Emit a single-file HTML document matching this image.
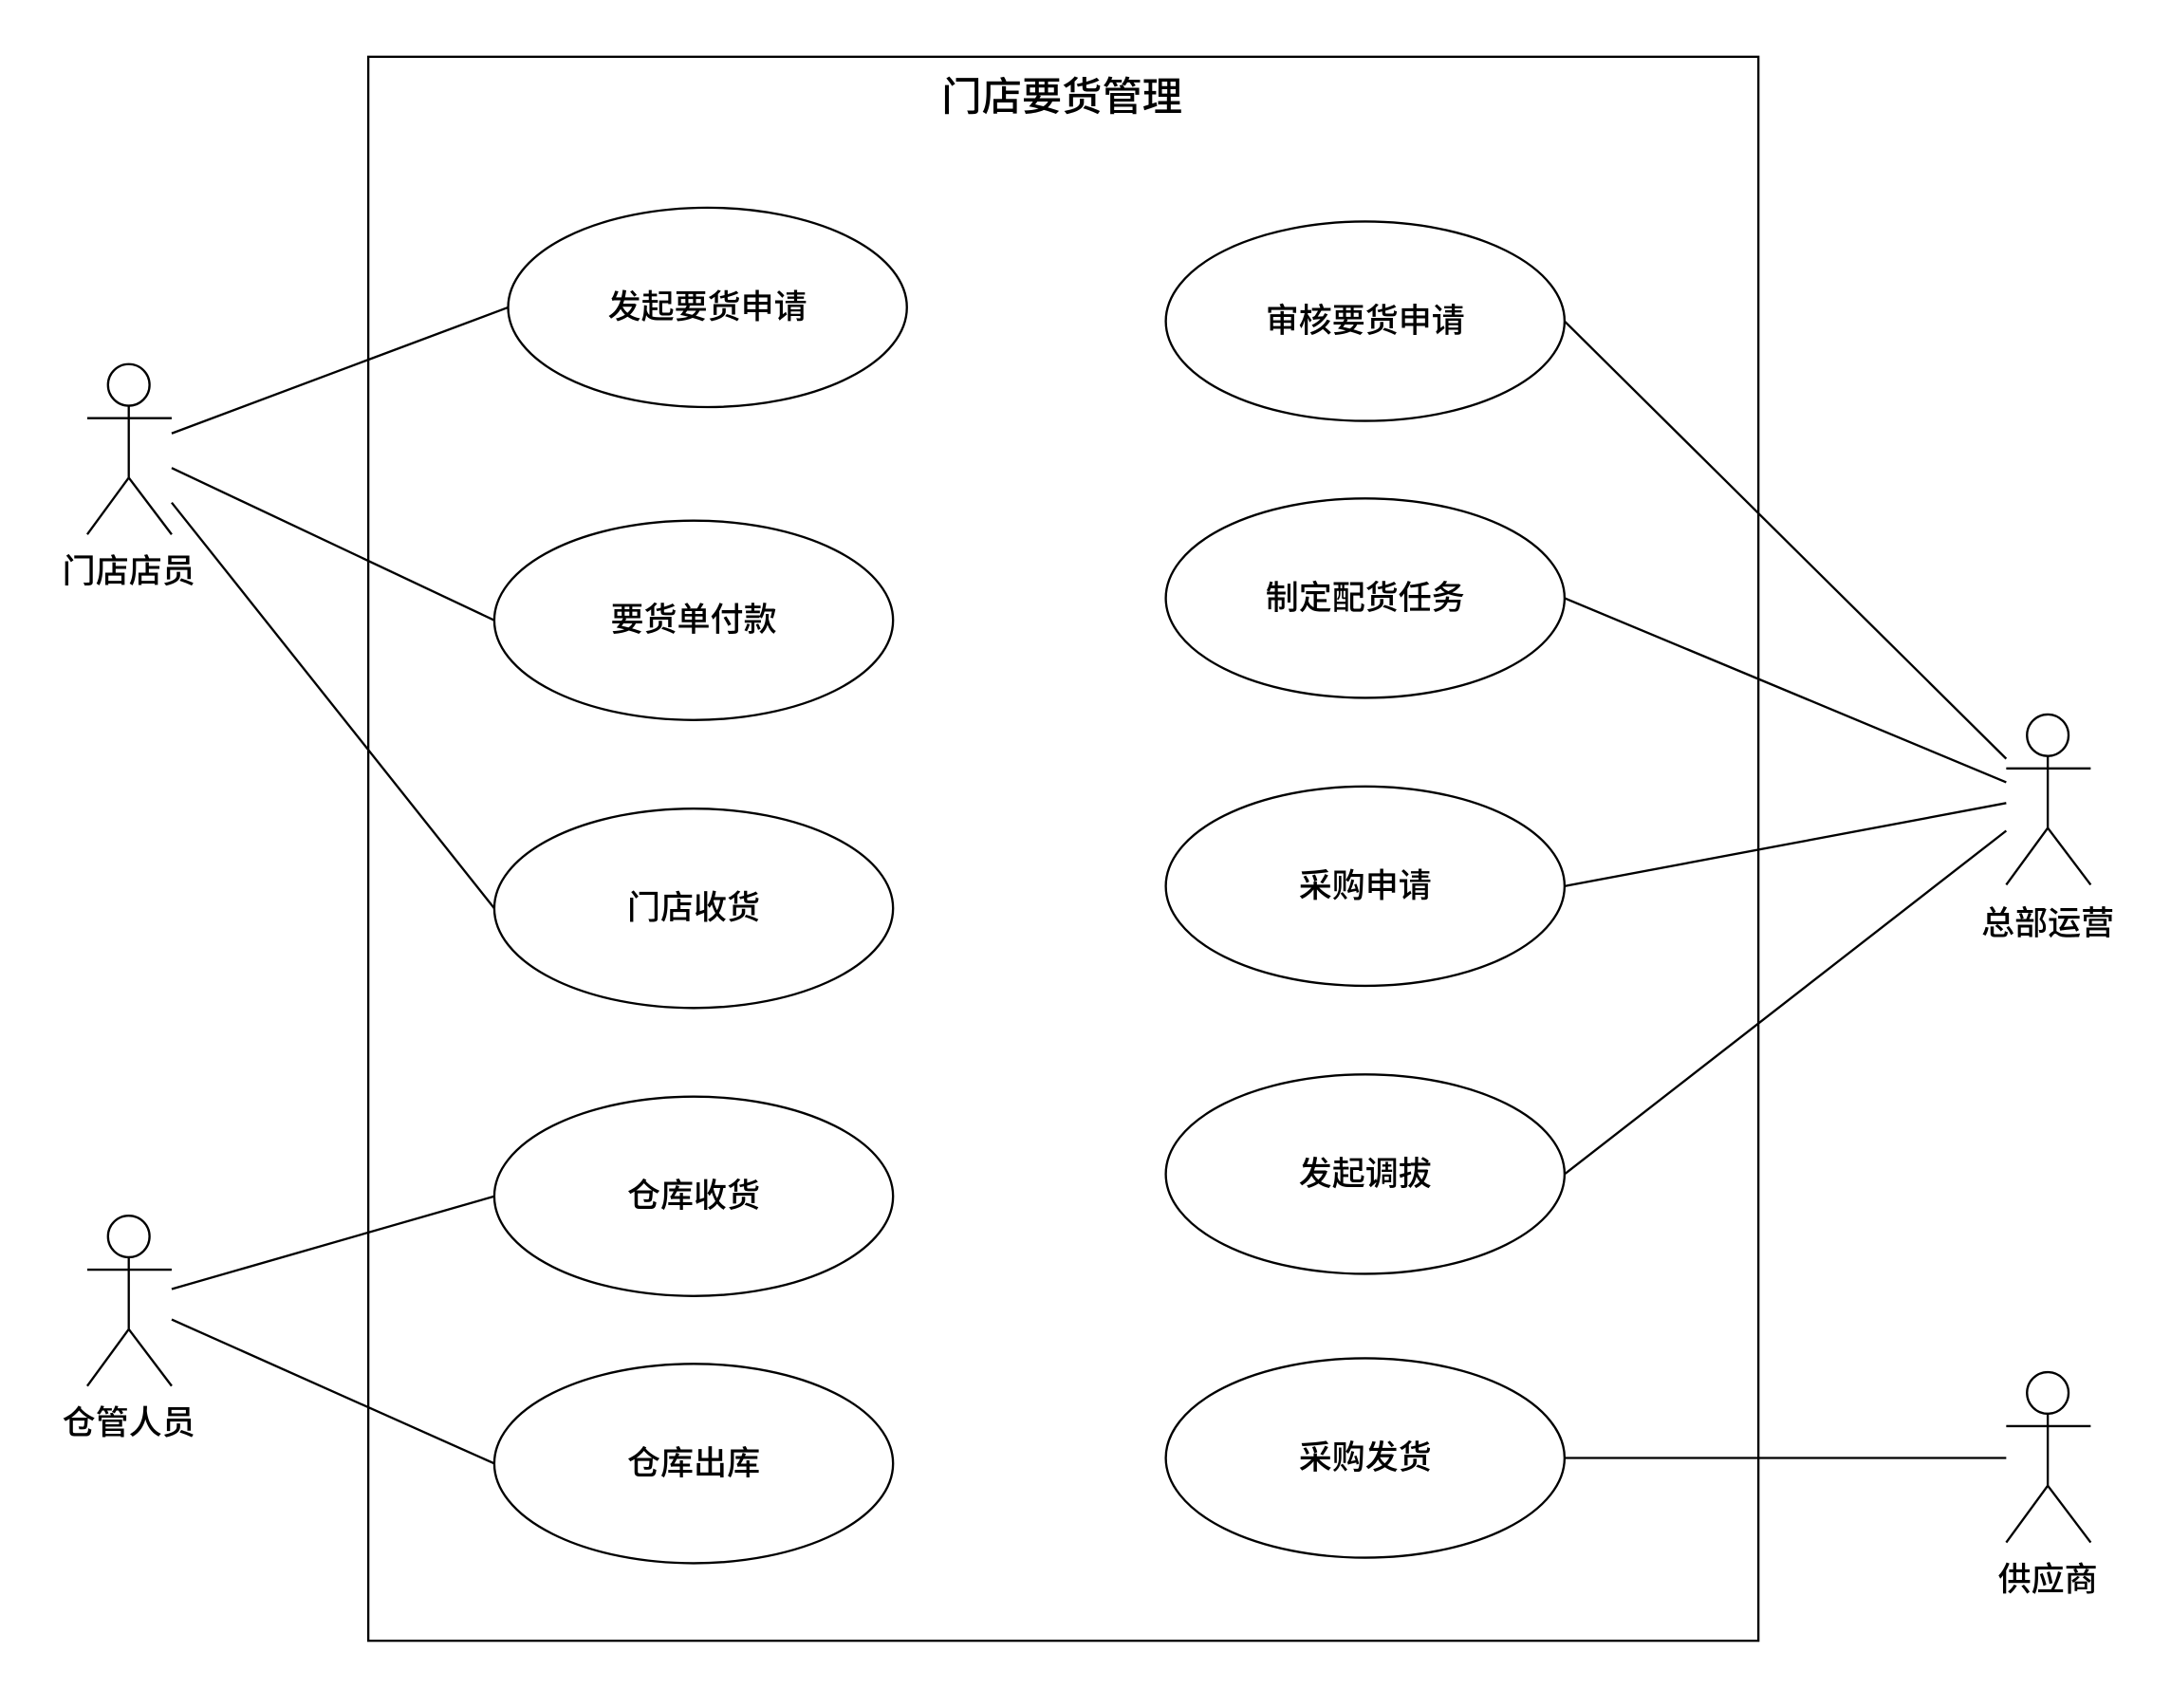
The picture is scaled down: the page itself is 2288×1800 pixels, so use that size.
<!DOCTYPE html>
<html><head><meta charset="utf-8"><style>
html,body{margin:0;padding:0;background:#fff;}
svg{display:block;}
text{font-family:"Liberation Sans","Noto Sans CJK SC",sans-serif;fill:#000;font-weight:500;}
</style></head><body>
<svg width="2288" height="1800" viewBox="0 0 1568 1233.57" xmlns="http://www.w3.org/2000/svg">
<g fill="none" stroke="#000" stroke-width="1.6">
<rect x="266" y="41" width="1004" height="1144"/>
<ellipse cx="511" cy="222" rx="144" ry="72" fill="#fff"/>
<ellipse cx="501" cy="448" rx="144" ry="72" fill="#fff"/>
<ellipse cx="501" cy="656" rx="144" ry="72" fill="#fff"/>
<ellipse cx="501" cy="864" rx="144" ry="72" fill="#fff"/>
<ellipse cx="501" cy="1057" rx="144" ry="72" fill="#fff"/>
<ellipse cx="986" cy="232" rx="144" ry="72" fill="#fff"/>
<ellipse cx="986" cy="432" rx="144" ry="72" fill="#fff"/>
<ellipse cx="986" cy="640" rx="144" ry="72" fill="#fff"/>
<ellipse cx="986" cy="848" rx="144" ry="72" fill="#fff"/>
<ellipse cx="986" cy="1053" rx="144" ry="72" fill="#fff"/>
<line x1="124" y1="313" x2="367" y2="222"/>
<line x1="124" y1="338" x2="357" y2="448"/>
<line x1="124" y1="363" x2="357" y2="656"/>
<line x1="124" y1="931" x2="357" y2="864"/>
<line x1="124" y1="953" x2="357" y2="1057"/>
<line x1="1130" y1="232" x2="1449" y2="548"/>
<line x1="1130" y1="432" x2="1449" y2="565"/>
<line x1="1130" y1="640" x2="1449" y2="580"/>
<line x1="1130" y1="848" x2="1449" y2="600"/>
<line x1="1130" y1="1053" x2="1449" y2="1053"/>
<g id="a1">
<circle cx="93" cy="278" r="15"/>
<line x1="93" y1="293" x2="93" y2="345"/>
<line x1="63" y1="302" x2="124" y2="302"/>
<line x1="93" y1="345" x2="63" y2="386"/>
<line x1="93" y1="345" x2="124" y2="386"/>
</g>
<use href="#a1" transform="translate(0,615)"/>
<use href="#a1" transform="translate(1386,253)"/>
<use href="#a1" transform="translate(1386,728)"/>
</g>
<g font-size="24" text-anchor="middle" dominant-baseline="central">
<text x="767" y="70" font-size="29">门店要货管理</text>
<text x="511" y="222">发起要货申请</text>
<text x="501" y="448">要货单付款</text>
<text x="501" y="656">门店收货</text>
<text x="501" y="864">仓库收货</text>
<text x="501" y="1057">仓库出库</text>
<text x="986" y="232">审核要货申请</text>
<text x="986" y="432">制定配货任务</text>
<text x="986" y="640">采购申请</text>
<text x="986" y="848">发起调拔</text>
<text x="986" y="1053">采购发货</text>
<text x="93" y="413">门店店员</text>
<text x="93" y="1028">仓管人员</text>
<text x="1479" y="667">总部运营</text>
<text x="1479" y="1141">供应商</text>
</g>
</svg>
</body></html>
